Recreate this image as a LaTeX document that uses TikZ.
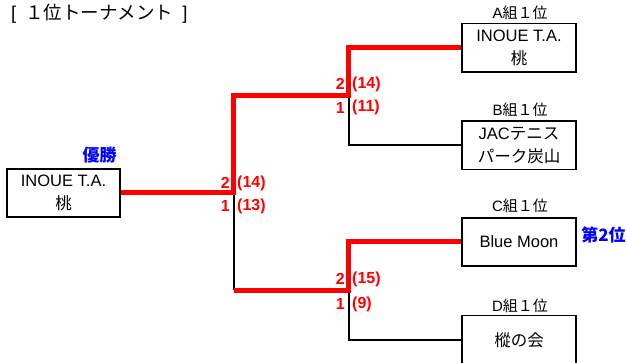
\documentclass[tikz,border=0pt]{standalone}
\usepackage{fontspec}
\setmainfont{Liberation Sans}
\newfontfamily\jp{Noto Sans CJK JP}
\definecolor{tred}{RGB}{255,0,0}
\definecolor{tblue}{RGB}{0,0,255}
\begin{document}
\begin{tikzpicture}[x=1pt,y=-1pt,
 box/.style={draw,line width=1.8pt,minimum width=114pt,minimum height=48.5pt,inner sep=0pt,align=center,font=\fontsize{16.5}{23}\selectfont},
 grp/.style={font=\fontsize{15}{15}\selectfont,inner sep=0pt},
 win/.style={line width=5pt,draw=tred},
 lose/.style={line width=2pt,draw=black},
 sc/.style={font=\fontsize{16}{16}\selectfont\bfseries,text=tred,inner sep=0pt},
 prize/.style={font=\jp\fontsize{17}{17}\selectfont\bfseries,text=tblue,inner sep=0pt}]
\useasboundingbox (0,0) rectangle (627,363);

% title
\node[anchor=west,inner sep=0pt,font=\fontsize{18.5}{18.5}\selectfont] (title) at (11,14) {[\hspace{9pt}{\jp １位トーナメント}\hspace{9pt}]};

% boxes
\node[box,minimum width=113pt] (L) at (63.5,193) {INOUE T.A.\\{\jp 桃}};
\node[box] (A) at (519,47.7) {INOUE T.A.\\{\jp 桃}};
\node[box] (B) at (519,145.3) {JAC{\jp テニス}\\{\jp パーク炭山}};
\node[box] (C) at (519,242) {Blue Moon};
\node[box,minimum height=49pt] (D) at (519,340) {{\jp 樅の会}};

% group labels
\node[grp] (la) at (520,12.5) {A{\jp 組１位}};
\node[grp] (lb) at (520,109.5) {B{\jp 組１位}};
\node[grp] (lc) at (520,206) {C{\jp 組１位}};
\node[grp] (ld) at (520,306) {D{\jp 組１位}};

% prizes
\node[prize] (champ) at (99.5,155) {優勝};
\node[prize] (second) at (603.5,235) {第2位};

% junctions
\coordinate (m) at (233.5,193);
\coordinate (t) at (348.5,95.5);
\coordinate (b) at (348.5,290.5);

% losing lines
\draw[lose] (m) -- (m |- b);
\draw[lose] (t) |- (B.west);
\draw[lose] (b) |- (D.west);

% winning lines
\draw[win] (L.east) -- (m) -- (m |- t) -- (t) |- (A.west);
\draw[win] (m |- b) -- (b) |- (C.west);

% scores
\node[sc,anchor=east] (s1w) at (345,84) {2};
\node[sc,anchor=west] (p1w) at (352,84) {(14)};
\node[sc,anchor=east] (s1l) at (345,107.5) {1};
\node[sc,anchor=west] (p1l) at (352,107.5) {(11)};

\node[sc,anchor=east] (s2w) at (230,183) {2};
\node[sc,anchor=west] (p2w) at (237,183) {(14)};
\node[sc,anchor=east] (s2l) at (230,206) {1};
\node[sc,anchor=west] (p2l) at (237,206) {(13)};

\node[sc,anchor=east] (s3w) at (345,279) {2};
\node[sc,anchor=west] (p3w) at (352,279) {(15)};
\node[sc,anchor=east] (s3l) at (345,304) {1};
\node[sc,anchor=west] (p3l) at (352,304) {(9)};
\end{tikzpicture}
\end{document}
